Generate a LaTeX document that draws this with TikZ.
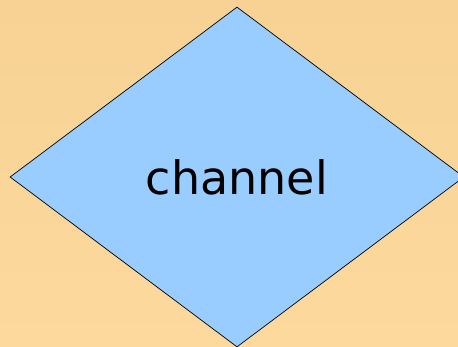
\documentclass[tikz,border=0pt]{standalone}
\usepackage{fontspec}
\setmainfont{DejaVu Sans}
\usetikzlibrary{shapes.geometric}
\definecolor{bgtop}{RGB}{247,210,148}
\definecolor{bgbottom}{RGB}{253,217,158}
\definecolor{chanblue}{RGB}{153,204,255}

\begin{document}
\begin{tikzpicture}[x=1pt, y=1pt]
  \useasboundingbox (0,0) rectangle (458,347);
  \clip (0,0) rectangle (458,347);
  % background
  \shade[top color=bgtop, bottom color=bgbottom] (0,0) rectangle (458,347);
  % the channel
  \node[diamond, draw=black, fill=chanblue, line width=0.7pt,
        minimum width=454pt, minimum height=340pt, inner sep=0pt,
        font=\fontsize{46}{50}\selectfont] (channel) at (237,170) {channel};
\end{tikzpicture}
\end{document}
